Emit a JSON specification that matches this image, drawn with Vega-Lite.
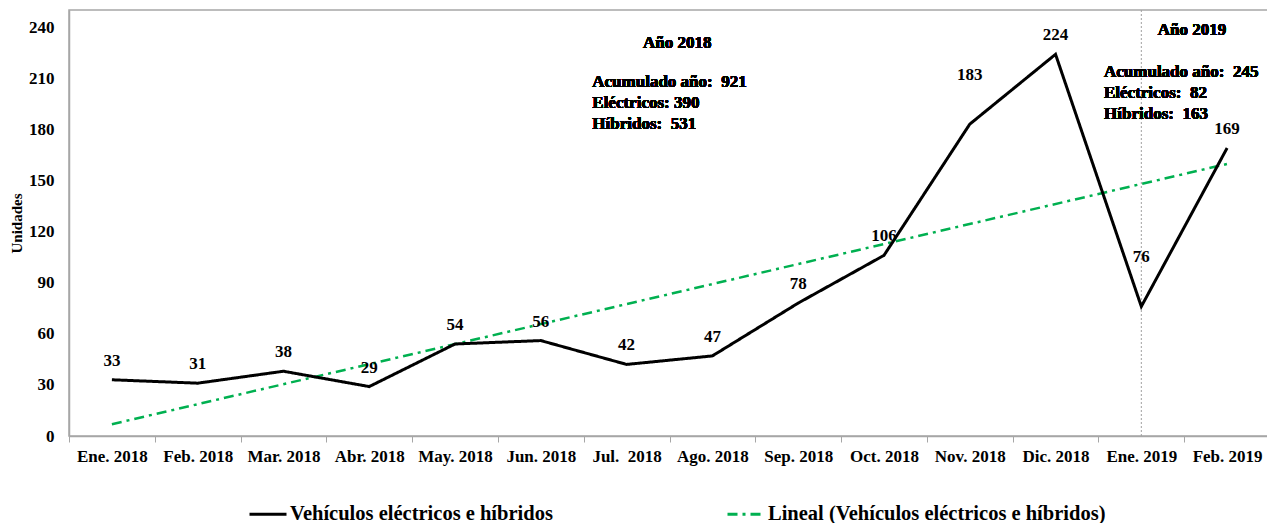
{
  "$schema": "https://vega.github.io/schema/vega-lite/v6.json",
  "width": 1201,
  "height": 426,
  "autosize": "none",
  "padding": {"left": 69, "top": 10, "right": 0, "bottom": 87},
  "background": "white",
  "config": {
    "font": "Liberation Serif",
    "view": {"stroke": "#a6a6a6", "strokeWidth": 1.5}
  },
  "data": {
    "values": [
      {"mes": "Ene. 2018", "i": 0, "unidades": 33},
      {"mes": "Feb. 2018", "i": 1, "unidades": 31},
      {"mes": "Mar. 2018", "i": 2, "unidades": 38},
      {"mes": "Abr. 2018", "i": 3, "unidades": 29},
      {"mes": "May. 2018", "i": 4, "unidades": 54},
      {"mes": "Jun. 2018", "i": 5, "unidades": 56},
      {"mes": "Jul. 2018", "i": 6, "unidades": 42},
      {"mes": "Ago. 2018", "i": 7, "unidades": 47},
      {"mes": "Sep. 2018", "i": 8, "unidades": 78},
      {"mes": "Oct. 2018", "i": 9, "unidades": 106},
      {"mes": "Nov. 2018", "i": 10, "unidades": 183},
      {"mes": "Dic. 2018", "i": 11, "unidades": 224},
      {"mes": "Ene. 2019", "i": 12, "unidades": 76},
      {"mes": "Feb. 2019", "i": 13, "unidades": 169}
    ]
  },
  "layer": [
    {
      "transform": [{"filter": "datum.i == 12"}],
      "mark": {"type": "rule", "color": "#a0a0a0", "strokeWidth": 1, "strokeDash": [2, 2]},
      "encoding": {
        "x": {
          "field": "i",
          "type": "quantitative",
          "scale": {"domain": [-0.5, 13.5], "nice": false, "zero": false},
          "axis": {
            "values": [-0.5, 0.5, 1.5, 2.5, 3.5, 4.5, 5.5, 6.5, 7.5, 8.5, 9.5, 10.5, 11.5, 12.5],
            "labelExpr": "['Ene. 2018','Feb. 2018','Mar. 2018','Abr. 2018','May. 2018','Jun. 2018','Jul.\u00a0 2018','Ago. 2018','Sep. 2018','Oct. 2018','Nov. 2018','Dic. 2018','Ene. 2019','Feb. 2019'][round(datum.value + 0.5)]",
            "labelOffset": 42.9,
            "labelOverlap": false,
            "labelBound": false,
            "labelFlush": false,
            "labelFontSize": 17,
            "labelFontWeight": "bold",
            "labelColor": "black",
            "labelPadding": 6,
            "ticks": true,
            "tickSize": 6,
            "tickColor": "#a6a6a6",
            "domainColor": "#a6a6a6",
            "domainWidth": 1.5,
            "grid": false,
            "title": null
          }
        },
        "y": {"datum": 250, "type": "quantitative"},
        "y2": {"datum": 0}
      }
    },
    {
      "transform": [{"regression": "unidades", "on": "i", "method": "linear"}],
      "mark": {"type": "line", "strokeWidth": 2.5},
      "encoding": {
        "x": {"field": "i", "type": "quantitative"},
        "y": {"field": "unidades", "type": "quantitative"},
        "color": {"datum": "Lineal (Vehículos eléctricos e híbridos)"},
        "strokeDash": {"datum": "Lineal (Vehículos eléctricos e híbridos)"}
      }
    },
    {
      "mark": {"type": "line", "strokeWidth": 3},
      "encoding": {
        "x": {"field": "i", "type": "quantitative"},
        "y": {
          "field": "unidades",
          "type": "quantitative",
          "scale": {"domain": [0, 250], "nice": false},
          "axis": {
            "values": [0, 30, 60, 90, 120, 150, 180, 210, 240],
            "ticks": false,
            "grid": false,
            "domainColor": "#a6a6a6",
            "domainWidth": 1.5,
            "labelFontSize": 17,
            "labelFontWeight": "bold",
            "labelColor": "black",
            "labelPadding": 15,
            "title": "Unidades",
            "titleFontSize": 15,
            "titleFontWeight": "bold",
            "titleColor": "black",
            "titlePadding": 4
          }
        },
        "color": {
          "datum": "Vehículos eléctricos e híbridos",
          "scale": {
            "domain": ["Vehículos eléctricos e híbridos", "Lineal (Vehículos eléctricos e híbridos)"],
            "range": ["#000000", "#00b050"]
          },
          "legend": {
            "title": null,
            "orient": "none",
            "legendX": 179,
            "legendY": 484,
            "direction": "horizontal",
            "symbolType": "stroke",
            "symbolSize": 1369,
            "symbolStrokeWidth": 3,
            "labelFontSize": 20.5,
            "labelFontWeight": "bold",
            "labelColor": "black",
            "labelOffset": 2,
            "labelLimit": 400,
            "columnPadding": 168
          }
        },
        "strokeDash": {
          "datum": "Vehículos eléctricos e híbridos",
          "scale": {
            "domain": ["Vehículos eléctricos e híbridos", "Lineal (Vehículos eléctricos e híbridos)"],
            "range": [[1, 0], [10, 5, 3, 5]]
          },
          "legend": {
            "title": null,
            "orient": "none",
            "legendX": 179,
            "legendY": 484,
            "direction": "horizontal",
            "symbolType": "stroke",
            "symbolSize": 1369,
            "symbolStrokeWidth": 3,
            "labelFontSize": 20.5,
            "labelFontWeight": "bold",
            "labelColor": "black",
            "labelOffset": 2,
            "labelLimit": 400,
            "columnPadding": 168
          }
        }
      }
    },
    {
      "transform": [{"filter": "datum.i != 10 && datum.i != 12"}],
      "mark": {"type": "text", "dy": -19, "fontSize": 17, "fontWeight": "bold", "color": "black"},
      "encoding": {
        "x": {"field": "i", "type": "quantitative"},
        "y": {"field": "unidades", "type": "quantitative"},
        "text": {"field": "unidades", "type": "quantitative"}
      }
    },
    {
      "transform": [{"filter": "datum.i == 10 || datum.i == 12"}],
      "mark": {"type": "text", "dy": -49, "fontSize": 17, "fontWeight": "bold", "color": "black"},
      "encoding": {
        "x": {"field": "i", "type": "quantitative"},
        "y": {"field": "unidades", "type": "quantitative"},
        "text": {"field": "unidades", "type": "quantitative"}
      }
    },
    {
      "mark": {"type": "text", "text": "Año 2018", "fontSize": 17, "fontWeight": "bold", "color": "black", "align": "center", "baseline": "middle"},
      "encoding": {
        "x": {"datum": 6.59, "type": "quantitative"},
        "y": {"datum": 230.6, "type": "quantitative"}
      }
    },
    {
      "mark": {"type": "text", "text": ["Acumulado año:\u00a0 921", "Eléctricos: 390", "Híbridos:\u00a0 531"], "fontSize": 17, "fontWeight": "bold", "color": "black", "align": "left", "baseline": "top", "lineHeight": 21},
      "encoding": {
        "x": {"datum": 5.6, "type": "quantitative"},
        "y": {"datum": 212.5, "type": "quantitative"}
      }
    },
    {
      "mark": {"type": "text", "text": "Año 2019", "fontSize": 17, "fontWeight": "bold", "color": "black", "align": "center", "baseline": "middle"},
      "encoding": {
        "x": {"datum": 12.59, "type": "quantitative"},
        "y": {"datum": 238.3, "type": "quantitative"}
      }
    },
    {
      "mark": {"type": "text", "text": ["Acumulado año:\u00a0 245", "Eléctricos:\u00a0 82", "Híbridos:\u00a0 163"], "fontSize": 17, "fontWeight": "bold", "color": "black", "align": "left", "baseline": "top", "lineHeight": 21},
      "encoding": {
        "x": {"datum": 11.565, "type": "quantitative"},
        "y": {"datum": 218.5, "type": "quantitative"}
      }
    }
  ]
}
